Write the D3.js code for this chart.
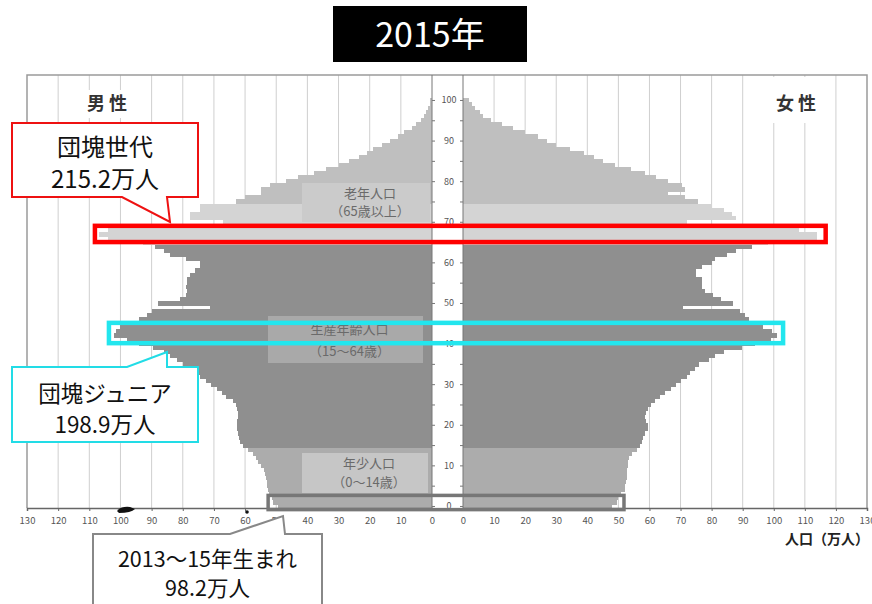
<!DOCTYPE html>
<html>
<head>
<meta charset="utf-8">
<script src="https://cdn.jsdelivr.net/npm/d3@7"></script>
<style>
  body { margin: 0; background: #fff; }
  text { font-family: "Noto Sans CJK JP", "Noto Sans", sans-serif; }
</style>
</head>
<body>
<div id="chart"></div>
<script>
// population by single year of age, 万人 (index = age 0..100)
const ages = d3.range(0, 101);
const male = [
  49.4, 51, 51.5, 52.3, 52.6, 53, 53, 53.3, 53.6, 54,
  54.8, 55.8, 56.6, 57.4, 59.2, 60.8, 61.6, 62, 62.2, 62.7,
  62.7, 62.7, 62.2, 62.4, 62.7, 63, 64, 66, 67.5, 69,
  71, 72.5, 74.5, 76, 77.7, 80, 82, 84, 86, 89.5,
  94, 98, 102, 101.5, 100, 96, 94, 91.5, 90, 71.3,
  88, 81, 79, 78.5, 79, 78.5, 78.7, 77.7, 76, 74.5,
  74.5, 79, 84, 86, 89, 92.8, 104, 107, 104, 95,
  67, 77.7, 77.7, 74.5, 74.5, 63, 60, 55, 55, 52,
  47, 43, 38, 34, 30, 26.5, 23.5, 21, 19, 16,
  13.5, 11, 9, 6.5, 5, 3.4, 2.5, 1.8, 1.2, 0.8,
  0.5
];
const female = [
  48, 49.5, 50, 51, 52, 52, 52.5, 52.7, 52.7, 52.7,
  53, 53, 53.5, 54.3, 56, 57, 57.5, 58, 58.5, 59.5,
  59.5, 59, 58.5, 59, 59.5, 60.5, 61.7, 63.5, 65, 67,
  68.5, 70, 72, 73, 74.5, 76, 79, 81, 84, 89.7,
  94, 99, 101, 99.5, 96.5, 93.5, 92, 90.7, 89, 70.7,
  87, 83, 80.5, 78, 77, 77, 77, 75, 75, 77,
  80, 81, 85, 88, 93, 98, 114, 114, 108, 100,
  72, 88, 86.5, 84, 80, 75.5, 71.5, 66, 71.5, 70.5,
  66, 62, 58.5, 54, 49, 45, 42, 39, 34.5, 30,
  27, 24, 20, 16, 12.5, 9, 6.5, 5.5, 4, 3,
  2
];
const popTicks = [0, 10, 20, 30, 40, 50, 60, 70, 80, 90, 100, 110, 120, 130];
const ageTicks = [0, 5, 10, 15, 20, 25, 30, 35, 40, 45, 50, 55, 60, 65, 70, 75, 80, 85, 90, 95, 100];

const groups = [
  { name: "年少人口", sub: "（0～14歳）", from: 0, to: 14 },
  { name: "生産年齢人口", sub: "（15～64歳）", from: 15, to: 64 },
  { name: "老年人口", sub: "（65歳以上）", from: 65, to: 100 }
];

const W = 872, H = 604;
const svg = d3.select("#chart").append("svg")
  .attr("width", W).attr("height", H);

const xM = d3.scaleLinear().domain([0, 130]).range([432, 27]);
const xF = d3.scaleLinear().domain([0, 130]).range([463, 867]);
const y = d3.scaleLinear().domain([0, 101]).range([508, 508 - 4.06 * 101]);
const yc = d3.scaleLinear().domain([0, 100]).range([y(0.5), y(100.5)]);
const plotTop = 75, plotBase = 508;

const fillFor = a => a <= 14 ? "#acacac" : a <= 64 ? "#8f8f8f" : a <= 74 ? "#d4d4d4" : "#bfbfbf";

// grid
const inner = popTicks.filter(d => d > 0 && d < 130);
const grid = svg.append("g");
grid.selectAll(".gm").data(inner).join("line")
  .attr("class", "gm")
  .attr("x1", d => xM(d)).attr("x2", d => xM(d))
  .attr("y1", plotTop).attr("y2", plotBase)
  .attr("stroke", "#cfcfcf");
grid.selectAll(".gf").data(inner).join("line")
  .attr("class", "gf")
  .attr("x1", d => xF(d)).attr("x2", d => xF(d))
  .attr("y1", plotTop).attr("y2", plotBase)
  .attr("stroke", "#cfcfcf");
grid.append("path")
  .attr("d", `M${xM(130)},${plotBase}V${plotTop}H${xF(130)}V${plotBase}`)
  .attr("fill", "none").attr("stroke", "#9a9a9a").attr("stroke-width", 1.5);

// sex labels
svg.append("rect").attr("x", 80).attr("y", 90).attr("width", 56).attr("height", 28).attr("fill", "#fff");
svg.append("rect").attr("x", 762).attr("y", 77).attr("width", 70).attr("height", 46).attr("fill", "#fff");
svg.append("text").attr("x", 107).attr("y", 110).attr("text-anchor", "middle")
  .attr("font-size", 18).attr("font-weight", "bold").attr("fill", "#333").text("男 性");
svg.append("text").attr("x", 796).attr("y", 110).attr("text-anchor", "middle")
  .attr("font-size", 18).attr("font-weight", "bold").attr("fill", "#333").text("女 性");

// bars
const bars = svg.append("g").attr("shape-rendering", "crispEdges");
bars.append("g").selectAll("rect").data(ages).join("rect")
  .attr("x", a => xM(male[a]))
  .attr("y", a => y(a + 1))
  .attr("width", a => xM(0) - xM(male[a]))
  .attr("height", a => y(a) - y(a + 1) + 0.6)
  .attr("fill", fillFor);
bars.append("g").selectAll("rect").data(ages).join("rect")
  .attr("x", xF(0))
  .attr("y", a => y(a + 1))
  .attr("width", a => xF(female[a]) - xF(0))
  .attr("height", a => y(a) - y(a + 1) + 0.6)
  .attr("fill", fillFor);

// group label boxes
const groupBoxes = [
  { g: groups[0], x: 302, y: 453, w: 126, h: 40, fill: "#c6c6c6" },
  { g: groups[1], x: 268, y: 316, w: 155, h: 47, fill: "#a9a9a9" },
  { g: groups[2], x: 302, y: 183, w: 128, h: 39, fill: "#cbcbcb" }
];
groupBoxes.forEach(b => {
  svg.append("rect").attr("x", b.x).attr("y", b.y).attr("width", b.w).attr("height", b.h)
    .attr("fill", b.fill);
  svg.append("text").attr("x", b.x + b.w / 2 + 4).attr("y", b.y + b.h * 0.38)
    .attr("text-anchor", "middle").attr("font-size", 13).attr("fill", "#6a6a6a").text(b.g.name);
  svg.append("text").attr("x", b.x + b.w / 2 + 4).attr("y", b.y + b.h * 0.85)
    .attr("text-anchor", "middle").attr("font-size", 13).attr("fill", "#6a6a6a").text(b.g.sub);
});

// age axis in the middle
const ageAxisL = svg.append("g").attr("transform", `translate(${xM(0)},0)`)
  .call(d3.axisRight(yc).tickValues(ageTicks).tickSize(3).tickFormat(""));
const ageAxisR = svg.append("g").attr("transform", `translate(${xF(0)},0)`)
  .call(d3.axisLeft(yc).tickValues(ageTicks).tickSize(3).tickFormat(""));
[ageAxisL, ageAxisR].forEach(g => {
  g.select(".domain").attr("d", `M0,${plotTop}V${plotBase}`).attr("stroke", "#777");
  g.selectAll(".tick line").attr("stroke", "#777");
});
svg.append("g").selectAll("text").data(ageTicks.filter(d => d % 10 === 0)).join("text")
  .attr("x", 449).attr("y", d => yc(d) + 3.5)
  .attr("text-anchor", "middle").attr("font-size", 9)
  .attr("font-family", "Liberation Sans, Arial, sans-serif")
  .attr("fill", "#555").text(d => d);

// bottom axes
const axM = svg.append("g").attr("transform", `translate(0,${plotBase})`)
  .call(d3.axisBottom(xM).tickValues(popTicks).tickSize(3).tickPadding(6));
const axF = svg.append("g").attr("transform", `translate(0,${plotBase})`)
  .call(d3.axisBottom(xF).tickValues(popTicks).tickSize(3).tickPadding(6));
[axM, axF].forEach(g => {
  g.select(".domain").attr("stroke", "#666").attr("stroke-width", 1.5);
  g.selectAll(".tick line").attr("stroke", "#666");
  g.selectAll(".tick text").attr("font-size", 9.5).attr("fill", "#555")
    .attr("font-family", "Liberation Sans, Arial, sans-serif");
});
svg.append("text").attr("x", 869).attr("y", 544).attr("text-anchor", "end")
  .attr("font-size", 14).attr("font-weight", "bold").attr("fill", "#222").text("人口（万人）");

// stray pen marks on the axis
svg.append("path").attr("d", "M117,511 Q121,506 130,507 L135,509 Q131,513 119,513 Z").attr("fill", "#111");
svg.append("circle").attr("cx", 247).attr("cy", 512).attr("r", 1.8).attr("fill", "#111");

// highlight boxes: age range and value extents
const highlights = [
  { a0: 65.5, a1: 69.5, m: 108.2, f: 116.7, color: "#ff0000", w: 4.5 },
  { a0: 40.6, a1: 45.6, m: 103.7, f: 103.0, color: "#22e6ee", w: 4.5 },
  { a0: -0.4, a1: 3.1, m: 52.6, f: 51.8, color: "#777777", w: 3.5 }
];
svg.append("g").selectAll("rect").data(highlights).join("rect")
  .attr("x", d => xM(d.m)).attr("y", d => y(d.a1))
  .attr("width", d => xF(d.f) - xM(d.m)).attr("height", d => y(d.a0) - y(d.a1))
  .attr("fill", "none").attr("stroke", d => d.color).attr("stroke-width", d => d.w);

// callouts
const callouts = [
  { lines: ["団塊世代", "215.2万人"], color: "#ee1111", box: [12, 123, 198, 197], side: "bottom", bx: [122, 167], apex: [170, 222], ty: [156, 188], fs: 24 },
  { lines: ["団塊ジュニア", "198.9万人"], color: "#22dce6", box: [12, 367, 198, 442], side: "top", bx: [127, 167], apex: [167, 352], ty: [402, 433], fs: 22.5 },
  { lines: ["2013～15年生まれ", "98.2万人"], color: "#888888", box: [93, 534, 322, 610], side: "top", bx: [230, 285], apex: [283, 516], ty: [567, 596], fs: 21.5 }
];
callouts.forEach(c => {
  const [x0, y0, x1, y1] = c.box;
  const d = c.side === "bottom"
    ? `M${x0},${y0}H${x1}V${y1}H${c.bx[1]}L${c.apex[0]},${c.apex[1]}L${c.bx[0]},${y1}H${x0}Z`
    : `M${x0},${y0}H${c.bx[0]}L${c.apex[0]},${c.apex[1]}L${c.bx[1]},${y0}H${x1}V${y1}H${x0}Z`;
  svg.append("path").attr("d", d).attr("fill", "#fff")
    .attr("stroke", c.color).attr("stroke-width", 2);
  c.lines.forEach((t, i) => {
    svg.append("text").attr("x", (x0 + x1) / 2).attr("y", c.ty[i])
      .attr("text-anchor", "middle").attr("font-size", c.fs).attr("fill", "#111").text(t);
  });
});

// title
svg.append("rect").attr("x", 333).attr("y", 6).attr("width", 194).attr("height", 56).attr("fill", "#000");
svg.append("text").attr("x", 430).attr("y", 47).attr("text-anchor", "middle")
  .attr("font-size", 34).attr("fill", "#fff").text("2015年");
</script>
</body>
</html>
